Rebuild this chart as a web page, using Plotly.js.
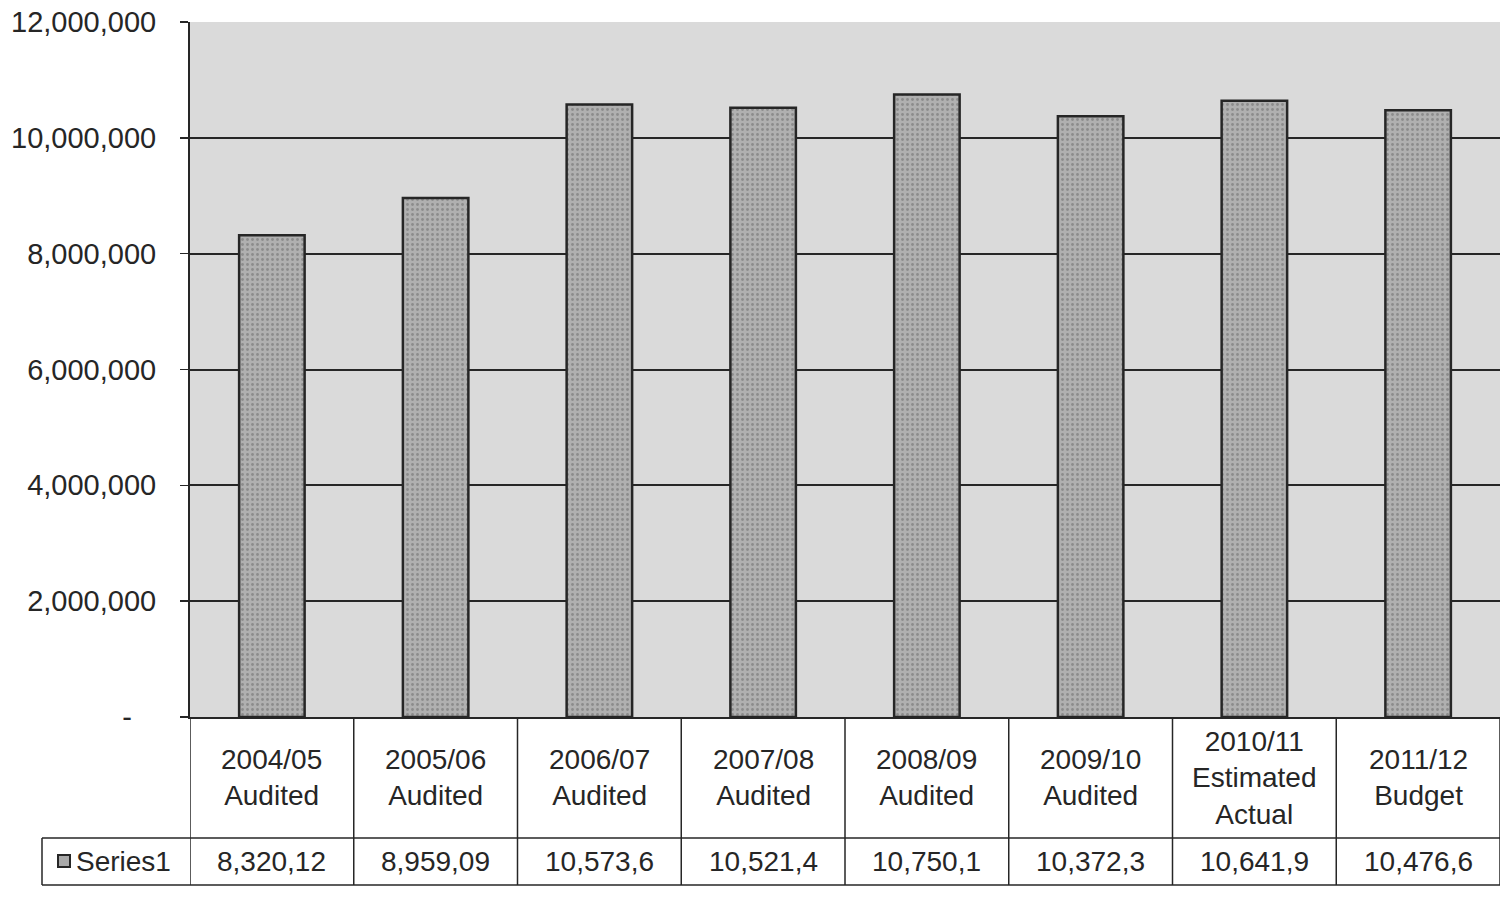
<!DOCTYPE html>
<html>
<head>
<meta charset="utf-8">
<script src="https://cdn.plot.ly/plotly-3.0.1.min.js"></script>
<style>
  html, body { margin: 0; padding: 0; background: #ffffff; }
  #chart { width: 1500px; height: 899px; }
</style>
</head>
<body>
<div id="chart"></div>
<script>
// Yearly totals, one bar per financial year
const periods = ["2004/05", "2005/06", "2006/07", "2007/08", "2008/09", "2009/10", "2010/11", "2011/12"];
const stages = ["Audited", "Audited", "Audited", "Audited", "Audited", "Audited", "Estimated<br>Actual", "Budget"];
const series1 = [8320120, 8959090, 10573600, 10521400, 10750100, 10372300, 10641900, 10476600];
const seriesName = "Series1";

// Value axis ticks
const tickValues = [0, 2000000, 4000000, 6000000, 8000000, 10000000, 12000000];
const tickLabels = ["-\u00a0\u00a0\u00a0", "2,000,000", "4,000,000", "6,000,000", "8,000,000", "10,000,000", "12,000,000"];

const categories = periods.map((p, i) => p + " " + stages[i].replace("<br>", " "));
const FONT = "Liberation Sans, Arial, sans-serif";
const INK = "#262626";

// The data-table cells only have room for eight characters
const cellText = v => v.toLocaleString("en-US").slice(0, 8);

// Pixel geometry of the plot area
const H = 899, T = 22, B = 182;
const plotH = H - T - B;
const py = px => (H - B - px) / plotH;        // page pixel row -> paper y
const row1Bottom = py(838), row2Bottom = py(885);
const legendLeft = -148 / 1310;

const shapes = [];
const line = (x0, y0, x1, y1, xref) => shapes.push({
  type: "line", xref: xref, yref: "paper", x0: x0, y0: y0, x1: x1, y1: y1,
  line: { color: INK, width: 1.5 }, layer: "above"
});
// column separators of the data table
for (let i = 0; i <= periods.length; i++) {
  line(i - 0.5, 0, i - 0.5, row2Bottom, "x");
}
// table row borders
line(legendLeft, row1Bottom, 1, row1Bottom, "paper");
line(legendLeft, row2Bottom, 1, row2Bottom, "paper");
line(legendLeft, row1Bottom, legendLeft, row2Bottom, "paper");
// legend key square
shapes.push({
  type: "rect", xref: "paper", yref: "paper",
  x0: -132 / 1310, x1: -120 / 1310, y0: py(867), y1: py(855),
  fillcolor: "#a9a9a9", line: { color: INK, width: 2 }
});

const annotations = [];
periods.forEach((p, i) => {
  annotations.push({
    xref: "x", yref: "paper", x: i, y: (0 + row1Bottom) / 2,
    text: p + "<br>" + stages[i], showarrow: false,
    font: { family: FONT, size: 28, color: INK }, align: "center",
    xanchor: "center", yanchor: "middle"
  });
  annotations.push({
    xref: "x", yref: "paper", x: i, y: (row1Bottom + row2Bottom) / 2,
    text: cellText(series1[i]), showarrow: false,
    font: { family: FONT, size: 28, color: INK },
    xanchor: "center", yanchor: "middle"
  });
});
annotations.push({
  xref: "paper", yref: "paper", x: -116 / 1310, y: (row1Bottom + row2Bottom) / 2,
  text: seriesName, showarrow: false,
  font: { family: FONT, size: 28, color: INK },
  xanchor: "left", yanchor: "middle"
});

const trace = {
  type: "bar",
  x: categories,
  y: series1,
  name: seriesName,
  marker: {
    color: "#a8a8a8",
    line: { color: INK, width: 2.5 },
    pattern: { shape: ".", fgcolor: "#8c8c8c", bgcolor: "#b0b0b0", size: 5, solidity: 0.25 }
  },
  hoverinfo: "skip"
};

const layout = {
  width: 1500, height: 899,
  margin: { l: 190, r: 0, t: T, b: B },
  paper_bgcolor: "#ffffff",
  plot_bgcolor: "#dadada",
  showlegend: false,
  bargap: 0.6,
  xaxis: {
    type: "category",
    showticklabels: false,
    showgrid: false,
    zeroline: false,
    ticks: "",
    showline: true, linecolor: INK, linewidth: 2,
    range: [-0.5, periods.length - 0.5]
  },
  yaxis: {
    range: [0, 12000000],
    tickmode: "array",
    tickvals: tickValues,
    ticktext: tickLabels,
    ticks: "outside", ticklen: 8, tickwidth: 1.5, tickcolor: INK,
    ticklabelstandoff: 18,
    tickfont: { family: FONT, size: 29, color: INK },
    showgrid: true, gridcolor: INK, gridwidth: 2,
    zeroline: false,
    showline: true, linecolor: INK, linewidth: 2
  },
  shapes: shapes,
  annotations: annotations
};

Plotly.newPlot("chart", [trace], layout, { staticPlot: true, displayModeBar: false });
</script>
</body>
</html>
